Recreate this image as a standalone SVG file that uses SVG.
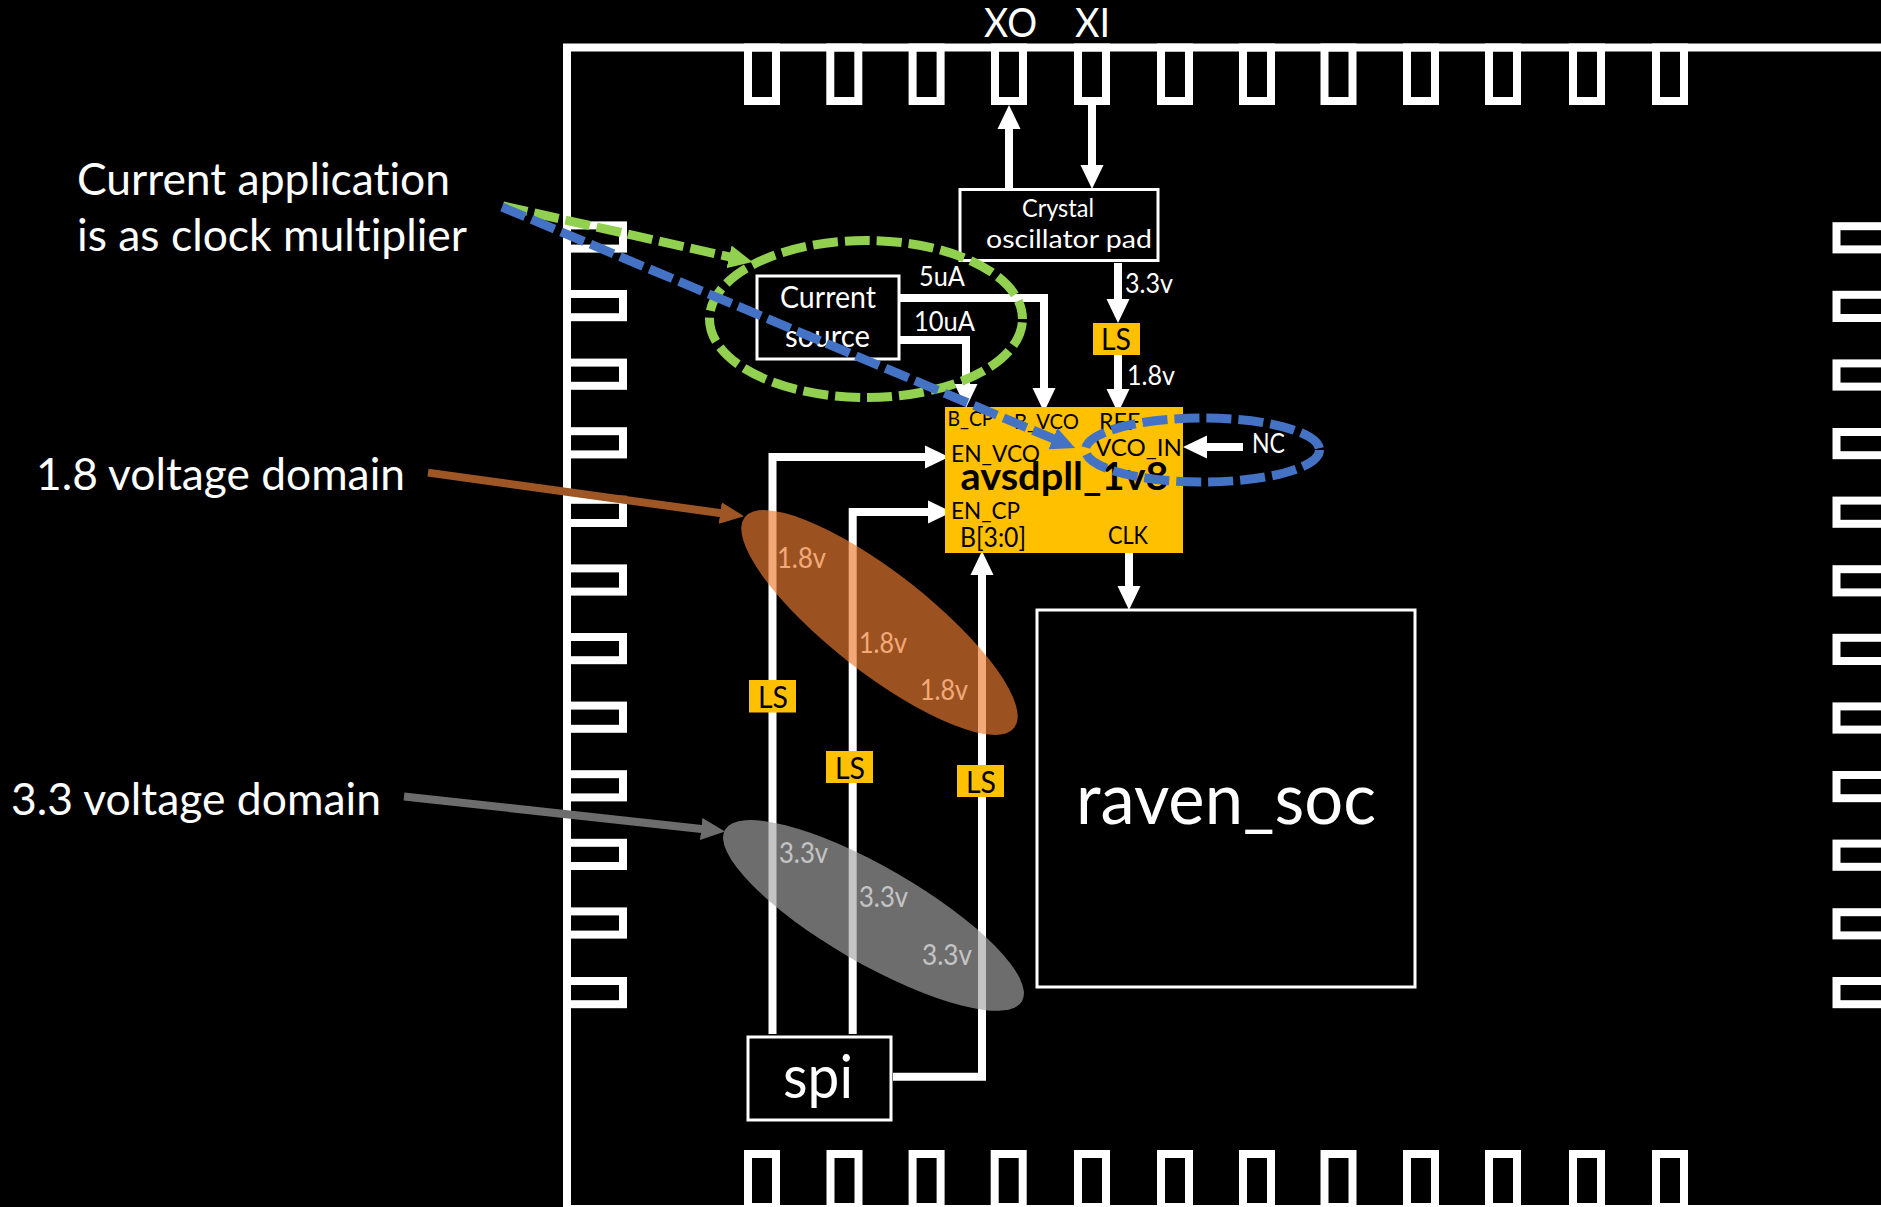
<svg xmlns="http://www.w3.org/2000/svg" width="1881" height="1207" viewBox="0 0 1881 1207">
<style>
text{font-family:Lato,"Open Sans","Liberation Sans",sans-serif;fill:#fff;font-variant-ligatures:none}
text.k{fill:#000}
.pad,.fr{fill:none;stroke:#fff;stroke-width:8}
.box{fill:#000;stroke:#fff;stroke-width:3}
.w{fill:none;stroke:#fff;stroke-width:8;stroke-linejoin:miter}
.ls{fill:#FFC000}
.d{fill:none;stroke-width:9;stroke-dasharray:25 7}
</style>
<defs>
<marker id="mw" markerUnits="userSpaceOnUse" markerWidth="24" markerHeight="24" viewBox="0 0 24 24" refX="12" refY="12" orient="auto"><path d="M0 0.5L24 12L0 23.5Z" fill="#fff"/></marker>
<marker id="mg" markerUnits="userSpaceOnUse" markerWidth="24" markerHeight="24" viewBox="0 0 24 24" refX="12" refY="12" orient="auto"><path d="M0 0.5L24 12L0 23.5Z" fill="#92D050"/></marker>
<marker id="mb" markerUnits="userSpaceOnUse" markerWidth="24" markerHeight="24" viewBox="0 0 24 24" refX="12" refY="12" orient="auto"><path d="M0 0.5L24 12L0 23.5Z" fill="#4472C4"/></marker>
<marker id="mo" markerUnits="userSpaceOnUse" markerWidth="24" markerHeight="24" viewBox="0 0 24 24" refX="12" refY="12" orient="auto"><path d="M0 1L24 12L0 23Z" fill="#9E5624"/></marker>
<marker id="my" markerUnits="userSpaceOnUse" markerWidth="24" markerHeight="24" viewBox="0 0 24 24" refX="12" refY="12" orient="auto"><path d="M0 1L24 12L0 23Z" fill="#6D6D6D"/></marker>
<rect id="pt" width="28" height="53.5" class="pad"/>
<rect id="pb" width="28" height="53" class="pad"/>
<rect id="pl" width="56" height="23.2" class="pad"/>
<rect id="pr" width="60" height="23.2" class="pad"/>
</defs>
<rect width="1881" height="1207" fill="#000"/>

<g id="chip-frame">
<rect class="fr" x="567" y="47.5" width="2000" height="1161.5"/>
<use href="#pt" x="748" y="47.5"/><use href="#pt" x="830.3" y="47.5"/><use href="#pt" x="912.6" y="47.5"/><use href="#pt" x="995" y="47.5"/><use href="#pt" x="1078" y="47.5"/><use href="#pt" x="1161" y="47.5"/><use href="#pt" x="1243" y="47.5"/><use href="#pt" x="1324.5" y="47.5"/><use href="#pt" x="1407" y="47.5"/><use href="#pt" x="1489" y="47.5"/><use href="#pt" x="1573" y="47.5"/><use href="#pt" x="1656" y="47.5"/>
<use href="#pb" x="748" y="1154"/><use href="#pb" x="830.5" y="1154"/><use href="#pb" x="912.6" y="1154"/><use href="#pb" x="994.7" y="1154"/><use href="#pb" x="1078" y="1154"/><use href="#pb" x="1161" y="1154"/><use href="#pb" x="1243" y="1154"/><use href="#pb" x="1324.5" y="1154"/><use href="#pb" x="1407" y="1154"/><use href="#pb" x="1489" y="1154"/><use href="#pb" x="1573" y="1154"/><use href="#pb" x="1656" y="1154"/>
<use href="#pl" x="567" y="225.4"/><use href="#pl" x="567" y="294"/><use href="#pl" x="567" y="362.6"/><use href="#pl" x="567" y="431.2"/><use href="#pl" x="567" y="499.8"/><use href="#pl" x="567" y="568.4"/><use href="#pl" x="567" y="637"/><use href="#pl" x="567" y="705.6"/><use href="#pl" x="567" y="774.2"/><use href="#pl" x="567" y="842.8"/><use href="#pl" x="567" y="911.4"/><use href="#pl" x="567" y="981"/>
<use href="#pr" x="1836.5" y="226.2"/><use href="#pr" x="1836.5" y="294.8"/><use href="#pr" x="1836.5" y="363.4"/><use href="#pr" x="1836.5" y="432"/><use href="#pr" x="1836.5" y="500.6"/><use href="#pr" x="1836.5" y="569.2"/><use href="#pr" x="1836.5" y="637.8"/><use href="#pr" x="1836.5" y="706.4"/><use href="#pr" x="1836.5" y="775"/><use href="#pr" x="1836.5" y="843.6"/><use href="#pr" x="1836.5" y="912.2"/><use href="#pr" x="1836.5" y="981"/>
</g>

<g id="pin-labels">
<text x="984" y="37" font-size="41" textLength="53" lengthAdjust="spacingAndGlyphs">XO</text>
<text x="1075" y="37" font-size="41" textLength="35" lengthAdjust="spacingAndGlyphs">XI</text>
</g>

<g id="callouts">
<text x="77" y="195" font-size="44" textLength="373" lengthAdjust="spacingAndGlyphs">Current application</text>
<text x="77" y="251" font-size="44" textLength="390" lengthAdjust="spacingAndGlyphs">is as clock multiplier</text>
<text x="36" y="490" font-size="44" textLength="369" lengthAdjust="spacingAndGlyphs">1.8 voltage domain</text>
<text x="11" y="815" font-size="44" textLength="370" lengthAdjust="spacingAndGlyphs">3.3 voltage domain</text>
</g>

<g id="connectors">
<path class="w" d="M1009 189V117" marker-end="url(#mw)"/>
<path class="w" d="M1092 105V177" marker-end="url(#mw)"/>
<path class="w" d="M1118 263V311" marker-end="url(#mw)"/>
<path class="w" d="M1118 355V401" marker-end="url(#mw)"/>
<path class="w" d="M895.5 298H1044V400" marker-end="url(#mw)"/>
<path class="w" d="M899 340H966V396" marker-end="url(#mw)"/>
<path class="w" d="M772.5 1034V457H937" marker-end="url(#mw)"/>
<path class="w" d="M852.7 1034V512H940" marker-end="url(#mw)"/>
<path class="w" d="M893 1076.7H982V563" marker-end="url(#mw)"/>
<path class="w" d="M1129 550V598" marker-end="url(#mw)"/>
<path class="w" d="M1243 447H1195" marker-end="url(#mw)"/>
</g>

<g id="crystal-pad"><rect class="box" x="960" y="189.5" width="198" height="71"/>
<text x="1022" y="217" font-size="25" textLength="72" lengthAdjust="spacingAndGlyphs">Crystal</text>
<text x="986" y="248" font-size="25" textLength="166" lengthAdjust="spacingAndGlyphs">oscillator pad</text></g>

<g id="current-source"><rect class="box" x="757" y="276" width="142" height="83"/>
<text x="780" y="308" font-size="30" textLength="96" lengthAdjust="spacingAndGlyphs">Current</text>
<text x="785" y="347" font-size="30" textLength="85" lengthAdjust="spacingAndGlyphs">source</text></g>

<g id="labels">
<text x="919" y="286" font-size="27" textLength="46" lengthAdjust="spacingAndGlyphs">5uA</text>
<text x="914" y="331" font-size="27" textLength="61" lengthAdjust="spacingAndGlyphs">10uA</text>
<text x="1125" y="293" font-size="27" textLength="48" lengthAdjust="spacingAndGlyphs">3.3v</text>
<text x="1127" y="385" font-size="27" textLength="48" lengthAdjust="spacingAndGlyphs">1.8v</text>
<text x="1252" y="452.5" font-size="27" textLength="33" lengthAdjust="spacingAndGlyphs">NC</text>
<text x="777" y="568" font-size="28" textLength="49" lengthAdjust="spacingAndGlyphs">1.8v</text>
<text x="859" y="653" font-size="28" textLength="48" lengthAdjust="spacingAndGlyphs">1.8v</text>
<text x="920" y="700" font-size="28" textLength="48" lengthAdjust="spacingAndGlyphs">1.8v</text>
<text x="779" y="863" font-size="28" textLength="49" lengthAdjust="spacingAndGlyphs">3.3v</text>
<text x="859" y="907" font-size="28" textLength="49" lengthAdjust="spacingAndGlyphs">3.3v</text>
<text x="922" y="965" font-size="28" textLength="50" lengthAdjust="spacingAndGlyphs">3.3v</text>
</g>

<g id="ls-ref"><rect class="ls" x="1093" y="323" width="47" height="32"/><text class="k" x="1101" y="350" font-size="30" textLength="30" lengthAdjust="spacingAndGlyphs">LS</text></g>
<g id="ls-en-vco"><rect class="ls" x="749" y="680" width="47" height="32.5"/><text class="k" x="758" y="707.5" font-size="30" textLength="30" lengthAdjust="spacingAndGlyphs">LS</text></g>
<g id="ls-en-cp"><rect class="ls" x="826" y="751" width="47" height="32"/><text class="k" x="835" y="778.5" font-size="30" textLength="30" lengthAdjust="spacingAndGlyphs">LS</text></g>
<g id="ls-b"><rect class="ls" x="957" y="765" width="47" height="32"/><text class="k" x="966" y="793" font-size="30" textLength="30" lengthAdjust="spacingAndGlyphs">LS</text></g>

<g id="avsdpll_1v8"><rect class="ls" x="945" y="407" width="238" height="146"/>
<text class="k" x="947.5" y="426" font-size="21" textLength="46" lengthAdjust="spacingAndGlyphs">B_CP</text>
<text class="k" x="1014" y="428.5" font-size="22" textLength="65" lengthAdjust="spacingAndGlyphs">B_VCO</text>
<text class="k" x="1099" y="430" font-size="23" textLength="41" lengthAdjust="spacingAndGlyphs">REF</text>
<text class="k" x="951" y="462" font-size="23" textLength="89" lengthAdjust="spacingAndGlyphs">EN_VCO</text>
<text class="k" x="1095" y="456" font-size="24" textLength="87" lengthAdjust="spacingAndGlyphs">VCO_IN</text>
<text class="k" x="960.5" y="490" font-size="39" font-weight="700" textLength="208" lengthAdjust="spacingAndGlyphs">avsdpll_1v8</text>
<text class="k" x="951" y="519" font-size="23" textLength="69" lengthAdjust="spacingAndGlyphs">EN_CP</text>
<text class="k" x="960" y="547" font-size="26" textLength="66" lengthAdjust="spacingAndGlyphs">B[3:0]</text>
<text class="k" x="1108" y="544" font-size="25" textLength="40" lengthAdjust="spacingAndGlyphs">CLK</text></g>

<g id="raven_soc"><rect class="box" x="1037" y="610" width="378" height="377" style="fill:none"/>
<text x="1076" y="823.5" font-size="71" textLength="300" lengthAdjust="spacingAndGlyphs">raven_soc</text></g>

<g id="spi"><rect class="box" x="748" y="1037" width="143" height="83"/>
<text x="783" y="1098" font-size="60" textLength="70" lengthAdjust="spacingAndGlyphs">spi</text></g>

<g id="domain-1v8"><ellipse cx="879.5" cy="622.5" rx="171" ry="50" transform="rotate(38 879.5 622.5)" fill="#ED7D31" fill-opacity=".66"/></g>
<g id="domain-3v3"><ellipse cx="873.5" cy="915.4" rx="171.5" ry="48.2" transform="rotate(30 873.5 915.4)" fill="#A5A5A5" fill-opacity=".66"/></g>

<g id="annotation-connectors">
<path d="M428 472.6L732.1 514.7" fill="none" stroke="#9E5624" stroke-width="8" marker-end="url(#mo)"/>
<path d="M404 796.5L713.1 830.3" fill="none" stroke="#6D6D6D" stroke-width="8" marker-end="url(#my)"/>
<ellipse id="current-highlight" class="d" cx="866" cy="319" rx="156.5" ry="78.5" stroke="#92D050" stroke-dashoffset="-3.5"/>
<path class="d" d="M503 206L740.8 259.4" stroke="#92D050" marker-end="url(#mg)"/>
<ellipse id="vco-highlight" class="d" cx="1202.5" cy="450" rx="117" ry="32" stroke="#4472C4"/>
<path class="d" d="M502 207L1064 443.3" stroke="#4472C4" marker-end="url(#mb)"/>
</g>
</svg>
